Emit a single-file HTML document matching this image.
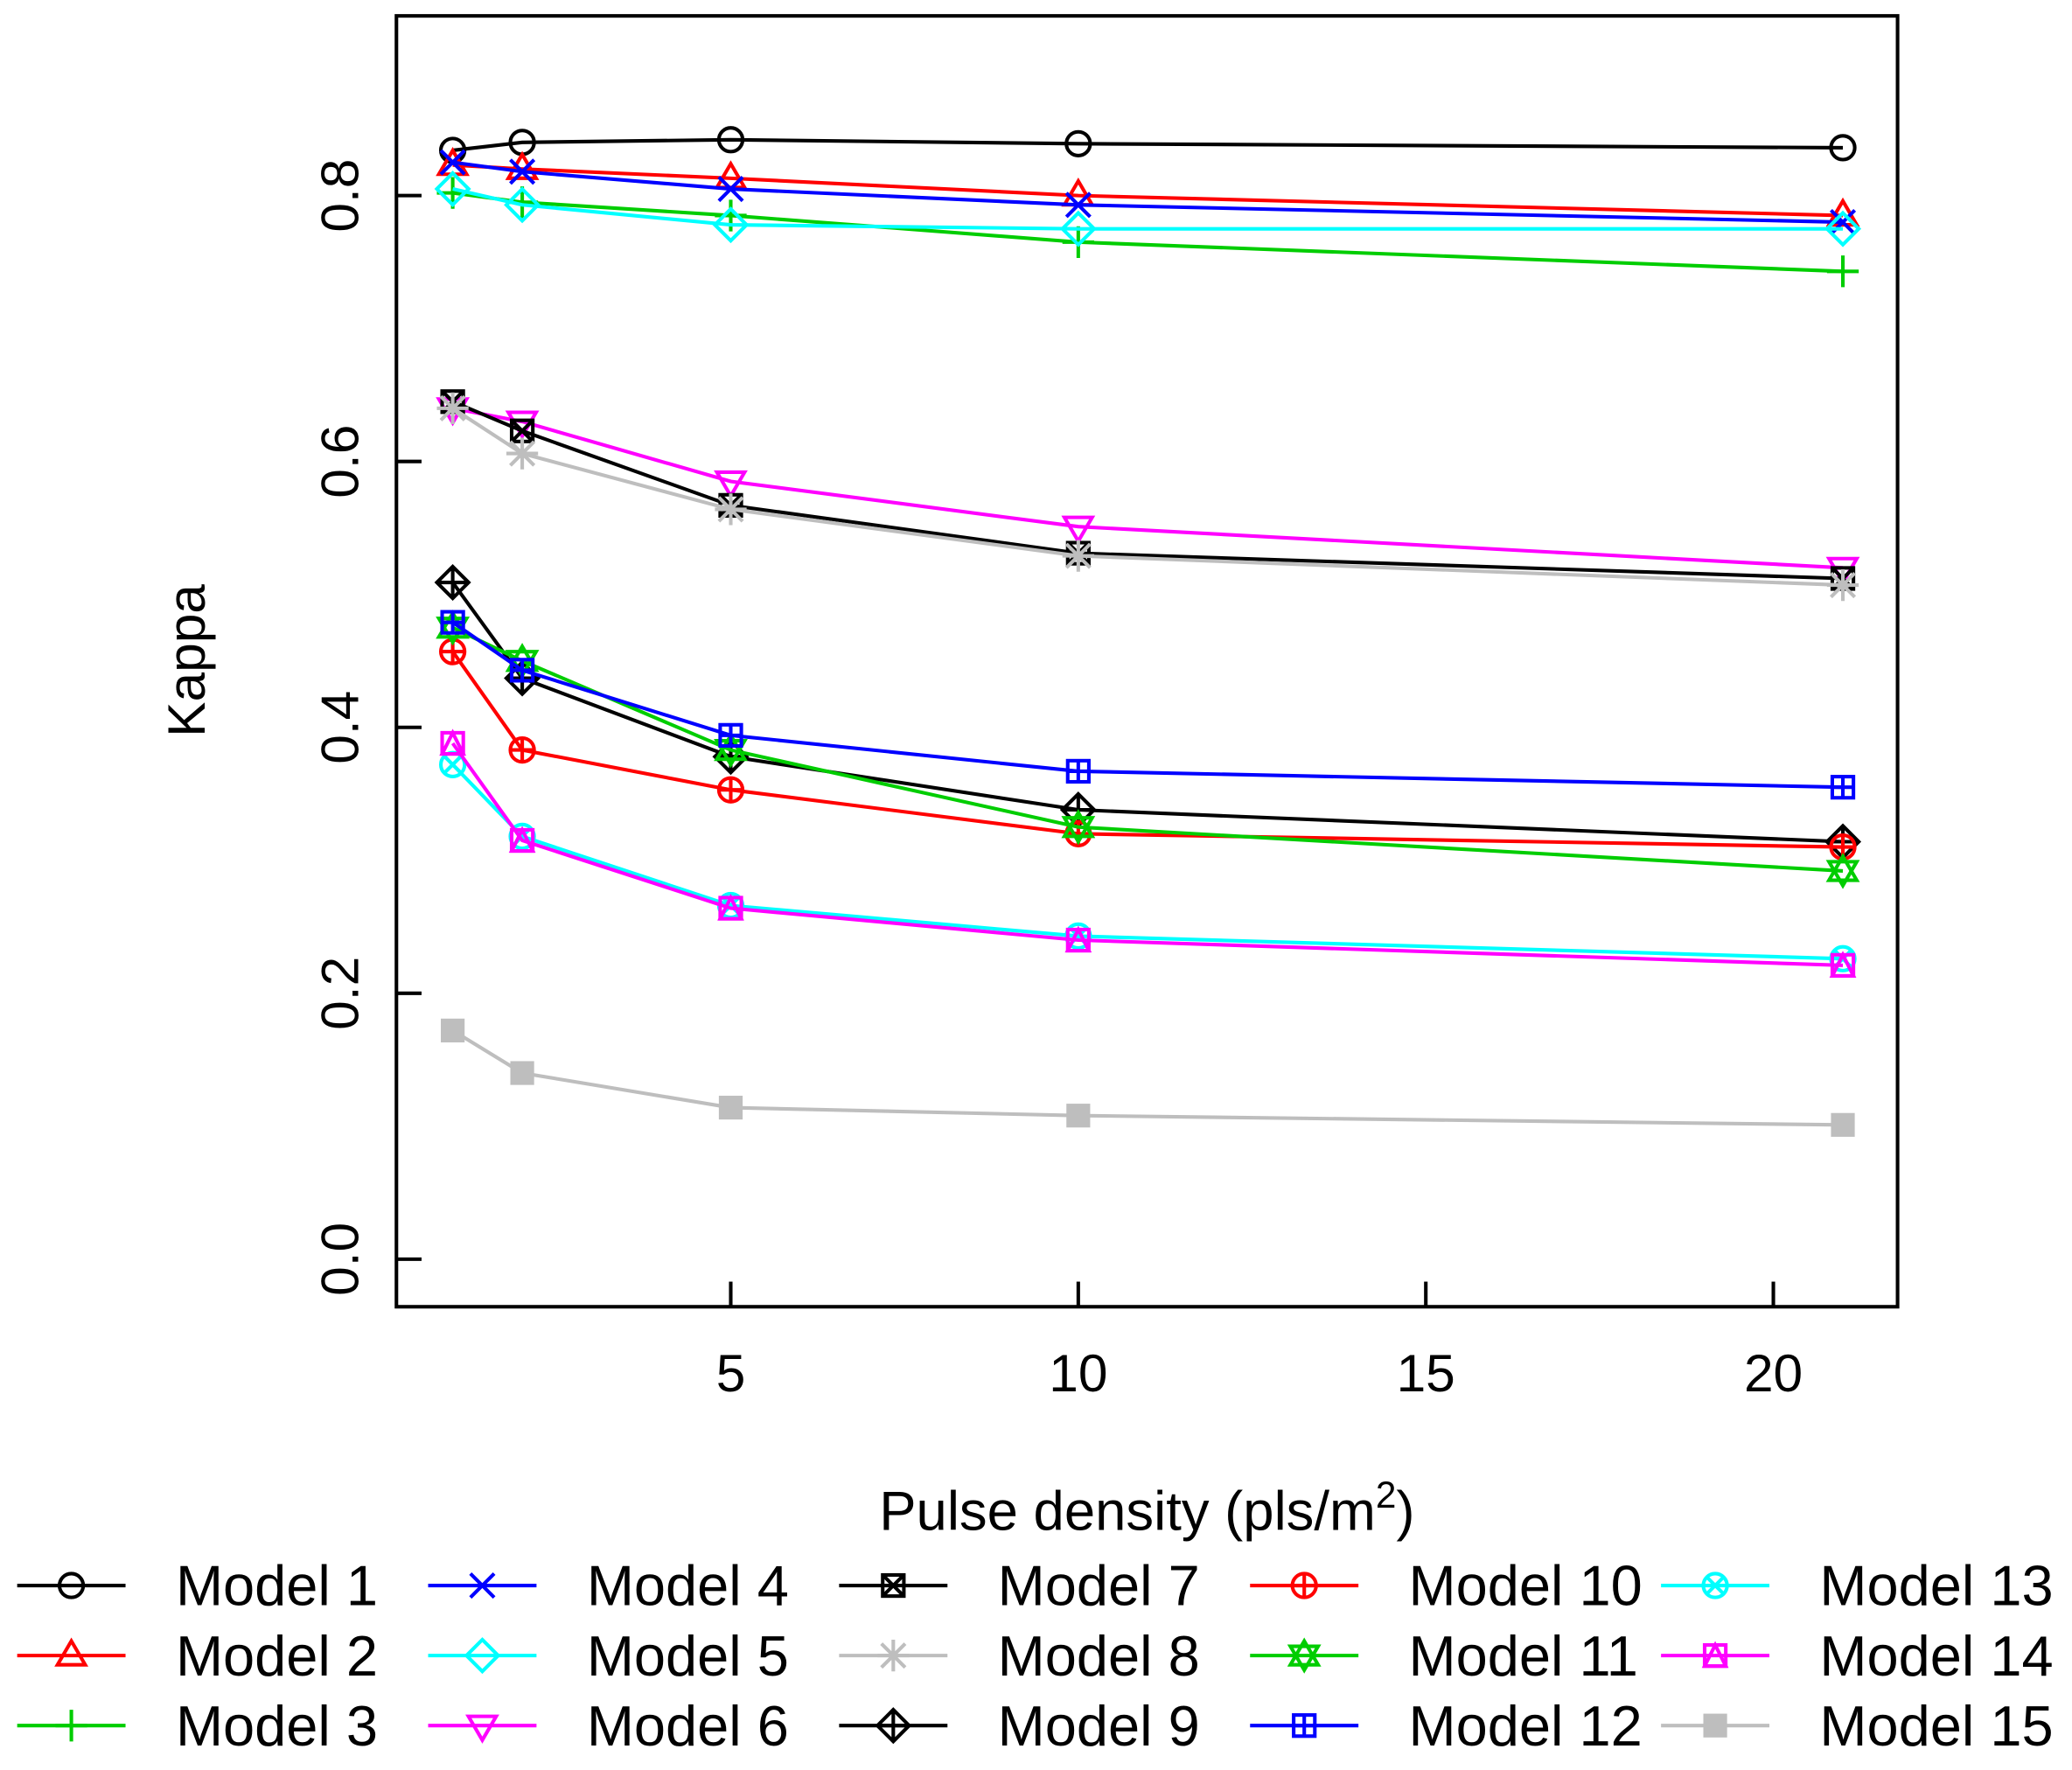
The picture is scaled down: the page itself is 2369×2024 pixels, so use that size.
<!DOCTYPE html>
<html><head><meta charset="utf-8"><style>
html,body{margin:0;padding:0;background:#fff;}
svg{display:block;font-family:"Liberation Sans",Arial,sans-serif;}
</style></head><body>
<svg id="chart" width="2369" height="2024" viewBox="0 0 1568 1339.6" xmlns="http://www.w3.org/2000/svg">
<rect x="0" y="0" width="1568" height="1339.6" fill="#fff"/>
<g id="plot"></g>
<g id="legend"></g>
</svg>
<script>
const xVals = [1, 2, 5, 10, 21];
const xTicks = [5, 10, 15, 20];
const yTicks = [0.0, 0.2, 0.4, 0.6, 0.8];
const yTickLabels = ["0.0", "0.2", "0.4", "0.6", "0.8"];
const seriesNames = ["Model 1","Model 2","Model 3","Model 4","Model 5","Model 6","Model 7","Model 8","Model 9","Model 10","Model 11","Model 12","Model 13","Model 14","Model 15"];
const m1 = [0.834, 0.840, 0.842, 0.839, 0.836];
const m2 = [0.823, 0.820, 0.813, 0.800, 0.785];
const m3 = [0.802, 0.795, 0.785, 0.765, 0.743];
const m4 = [0.825, 0.818, 0.805, 0.793, 0.780];
const m5 = [0.805, 0.793, 0.778, 0.775, 0.775];
const m6 = [0.640, 0.630, 0.585, 0.551, 0.520];
const m7 = [0.645, 0.623, 0.567, 0.531, 0.512];
const m8 = [0.640, 0.606, 0.564, 0.529, 0.507];
const m9 = [0.509, 0.437, 0.378, 0.338, 0.314];
const m10 = [0.457, 0.383, 0.353, 0.320, 0.310];
const m11 = [0.475, 0.450, 0.383, 0.325, 0.292];
const m12 = [0.479, 0.443, 0.394, 0.367, 0.355];
const m13 = [0.372, 0.318, 0.266, 0.243, 0.226];
const m14 = [0.388, 0.315, 0.264, 0.240, 0.221];
const m15 = [0.172, 0.140, 0.114, 0.108, 0.101];
const seriesValues = [m1,m2,m3,m4,m5,m6,m7,m8,m9,m10,m11,m12,m13,m14,m15];
const colors = ["#000","#f00","#00cd00","#00f","#0ff","#f0f","#000","#bebebe","#000","#f00","#00cd00","#00f","#0ff","#f0f","#bebebe"];
const shapes = ["circle","tri","plus","x","diamond","tridown","boxx","star","diamondplus","circleplus","david","squareplus","circlex","squaretri","fsquare"];

const NS = "http://www.w3.org/2000/svg";
const L = 300, R = 1436, T = 12, B = 989;
function sx(v){ return 553 + (v - 5) * 52.6; }
function sy(v){ return 953 - v * 1006.25; }
function mk(tag, attrs, parent){ const e = document.createElementNS(NS, tag); for (const k in attrs) e.setAttribute(k, attrs[k]); parent.appendChild(e); return e; }

const plot = document.getElementById('plot');
const legend = document.getElementById('legend');

function marker(shape, cx, cy, col, parent){
  const g = mk('g', {fill:'none', stroke:col, 'stroke-width':2.7}, parent);
  const tri = (d) => `${cx},${cy - d*11} ${cx - 10.5},${cy + d*7} ${cx + 10.5},${cy + d*7}`;
  const dia = `M${cx},${cy-12}L${cx+12},${cy}L${cx},${cy+12}L${cx-12},${cy}Z`;
  switch(shape){
    case 'circle': mk('circle',{cx,cy,r:9},g); break;
    case 'tri': mk('polygon',{points:tri(1)},g); break;
    case 'tridown': mk('polygon',{points:tri(-1)},g); break;
    case 'plus': mk('path',{d:`M${cx-12},${cy}H${cx+12}M${cx},${cy-12}V${cy+12}`},g); break;
    case 'x': mk('path',{d:`M${cx-9},${cy-9}L${cx+9},${cy+9}M${cx-9},${cy+9}L${cx+9},${cy-9}`},g); break;
    case 'diamond': mk('path',{d:dia},g); break;
    case 'boxx': mk('rect',{x:cx-8,y:cy-8,width:16,height:16},g); mk('path',{d:`M${cx-8},${cy-8}L${cx+8},${cy+8}M${cx-8},${cy+8}L${cx+8},${cy-8}`},g); break;
    case 'star': mk('path',{d:`M${cx-12},${cy}H${cx+12}M${cx},${cy-12}V${cy+12}M${cx-9},${cy-9}L${cx+9},${cy+9}M${cx-9},${cy+9}L${cx+9},${cy-9}`},g); break;
    case 'diamondplus': mk('path',{d:dia + `M${cx-12},${cy}H${cx+12}M${cx},${cy-12}V${cy+12}`},g); break;
    case 'circleplus': mk('circle',{cx,cy,r:9},g); mk('path',{d:`M${cx-9},${cy}H${cx+9}M${cx},${cy-9}V${cy+9}`},g); break;
    case 'david': mk('polygon',{points:tri(1)},g); mk('polygon',{points:tri(-1)},g); break;
    case 'squareplus': mk('rect',{x:cx-8,y:cy-8,width:16,height:16},g); mk('path',{d:`M${cx-8},${cy}H${cx+8}M${cx},${cy-8}V${cy+8}`},g); break;
    case 'circlex': mk('circle',{cx,cy,r:9},g); mk('path',{d:`M${cx-6.5},${cy-6.5}L${cx+6.5},${cy+6.5}M${cx-6.5},${cy+6.5}L${cx+6.5},${cy-6.5}`},g); break;
    case 'squaretri': mk('rect',{x:cx-8,y:cy-8,width:16,height:16},g); mk('polygon',{points:`${cx},${cy-8} ${cx-8},${cy+8} ${cx+8},${cy+8}`},g); break;
    case 'fsquare': mk('rect',{x:cx-9,y:cy-9,width:18,height:18,fill:col,stroke:'none'},g); break;
  }
  return g;
}

seriesValues.forEach((vals, i) => {
  const g = mk('g', {}, plot);
  
  
  const pts = vals.map((v, j) => `${sx(xVals[j])},${sy(v)}`).join(' ');
  mk('polyline', {points:pts, fill:'none', stroke:colors[i], 'stroke-width':2.7}, g);
  vals.forEach((v, j) => {
    const m = marker(shapes[i], sx(xVals[j]), sy(v), colors[i], g);
    
    
  });
});

const box = mk('rect', {x:L, y:T, width:R-L, height:B-T, fill:'none', stroke:'#000', 'stroke-width':2.7}, plot);



xTicks.forEach((t) => {
  const x = sx(t);
  const tk = mk('line', {x1:x, x2:x, y1:B, y2:B-19, stroke:'#000', 'stroke-width':2.7}, plot);
  
  
  const tx = mk('text', {x:x, y:1053, 'text-anchor':'middle', 'font-size':40, fill:'#000'}, plot);
  tx.textContent = String(t);
  
  
});
yTicks.forEach((t, i) => {
  const y = sy(t);
  const tk = mk('line', {x1:L, x2:L+19, y1:y, y2:y, stroke:'#000', 'stroke-width':2.7}, plot);
  
  
  const tx = mk('text', {x:0, y:0, 'text-anchor':'middle', 'font-size':40, fill:'#000', transform:`translate(271,${y}) rotate(-90)`}, plot);
  tx.textContent = yTickLabels[i];
  
  
});

const yt = mk('text', {x:0, y:0, 'text-anchor':'middle', 'font-size':40, fill:'#000', transform:'translate(155,500) rotate(-90)'}, plot);
yt.textContent = 'Kappa';


const xt = mk('text', {x:868, y:1158, 'text-anchor':'middle', 'font-size':42, fill:'#000'}, plot);


xt.appendChild(document.createTextNode('Pulse density (pls/m'));
const sup = mk('tspan', {dy:-17, 'font-size':28}, xt);
sup.textContent = '2';
const cl = mk('tspan', {dy:17}, xt);
cl.textContent = ')';

seriesNames.forEach((name, i) => {
  const col = Math.floor(i / 3), row = i % 3;
  const ox = col * 311, y = 1200 + row * 53;
  const g = mk('g', {}, legend);
  
  
  mk('line', {x1:ox+13, x2:ox+95, y1:y, y2:y, stroke:colors[i], 'stroke-width':2.7}, g);
  marker(shapes[i], ox+54, y, colors[i], g);
  const tx = mk('text', {x:ox+133, y:y+15, 'font-size':43, fill:'#000'}, g);
  tx.textContent = name;
});
</script>
</body></html>
